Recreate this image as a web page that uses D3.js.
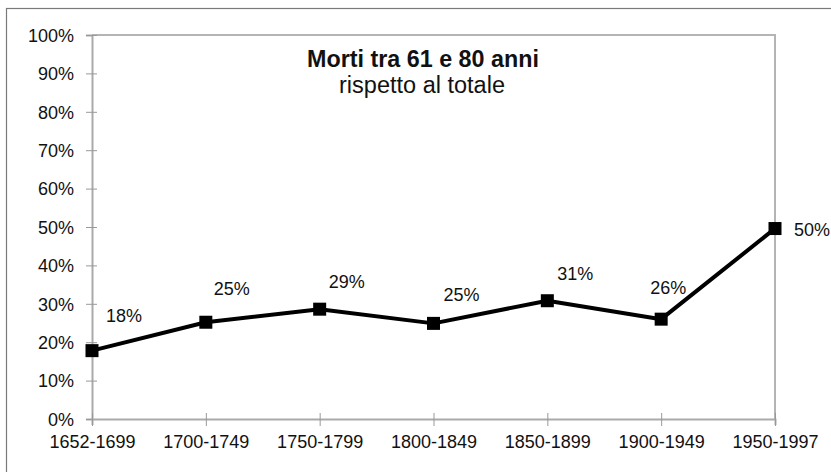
<!DOCTYPE html>
<html>
<head>
<meta charset="utf-8">
<script src="https://cdn.jsdelivr.net/npm/d3@7"></script>
<style>
  body { margin: 0; background: #fff; }
  text { font-family: "Liberation Sans", Arial, sans-serif; fill: #111; }
</style>
</head>
<body>
<svg id="chart" width="831" height="472"></svg>
<script>
// periods on the x axis
const periods = ["1652-1699", "1700-1749", "1750-1799", "1800-1849", "1850-1899", "1900-1949", "1950-1997"];
// share of deaths aged 61-80 over total (%)
const shares = [17.8, 25.2, 28.6, 24.9, 30.8, 26.0, 49.6];
const pointLabels = ["18%", "25%", "29%", "25%", "31%", "26%", "50%"];
const yTicks = [0, 10, 20, 30, 40, 50, 60, 70, 80, 90, 100];

const svg = d3.select("#chart");
const margin = { left: 92, right: 56, top: 35, bottom: 53 };
const W = 831, H = 472;

// outer chart frame (bottom/right run off the picture)
svg.append("rect")
  .attr("x", 6.5).attr("y", 8.5)
  .attr("width", 840).attr("height", 480)
  .attr("fill", "none")
  .attr("stroke", "#7a7a7a")
  .attr("stroke-width", 1.2);

const x = d3.scalePoint()
  .domain(periods)
  .range([margin.left, W - margin.right]);

const y = d3.scaleLinear()
  .domain([0, 100])
  .range([H - margin.bottom, margin.top]);

// plot area border (top + right)
svg.append("path")
  .attr("d", `M${margin.left},${y(100)}H${W - margin.right}V${y(0)}`)
  .attr("fill", "none")
  .attr("stroke", "#b4b4b4")
  .attr("stroke-width", 2);

// y axis
const yAxis = svg.append("g")
  .attr("transform", `translate(${margin.left},0)`)
  .call(d3.axisLeft(y).tickValues(yTicks).tickFormat(d => d + "%").tickSize(6).tickPadding(12));
yAxis.select(".domain").attr("stroke", "#aaa").attr("stroke-width", 2);
yAxis.selectAll(".tick line").attr("stroke", "#999").attr("x2", 5).attr("x1", -6);
yAxis.selectAll(".tick text")
  .style("font-size", "18px")
  .attr("dy", "0.35em");

// x axis
const xAxis = svg.append("g")
  .attr("transform", `translate(0,${y(0)})`)
  .call(d3.axisBottom(x).tickSize(6).tickPadding(10));
xAxis.select(".domain").attr("stroke", "#aaa").attr("stroke-width", 2);
xAxis.selectAll(".tick line").attr("stroke", "#999").attr("y1", -6).attr("y2", 7);
xAxis.selectAll(".tick text")
  .style("font-size", "18px")
  .attr("dy", "0.71em");

// the line
const line = d3.line()
  .x((d, i) => x(periods[i]))
  .y(d => y(d));

svg.append("path")
  .datum(shares)
  .attr("d", line)
  .attr("fill", "none")
  .attr("stroke", "#000")
  .attr("stroke-width", 4)
  .attr("stroke-linejoin", "round");

// square markers
const sz = 13;
svg.selectAll(".marker")
  .data(shares)
  .enter().append("rect")
  .attr("class", "marker")
  .attr("x", (d, i) => x(periods[i]) - sz / 2)
  .attr("y", d => y(d) - sz / 2)
  .attr("width", sz).attr("height", sz)
  .attr("fill", "#000");

// label offsets (hand placed, like in the original)
const labelDx = [32, 26, 27, 28, 28, 7, 37];
const labelDy = [-29, -27, -21, -22, -21, -25, 7];

svg.selectAll(".dlabel")
  .data(shares)
  .enter().append("text")
  .attr("class", "dlabel")
  .attr("x", (d, i) => x(periods[i]) + labelDx[i])
  .attr("y", (d, i) => y(d) + labelDy[i])
  .attr("text-anchor", "middle")
  .style("font-size", "18px")
  .text((d, i) => pointLabels[i]);

// title
svg.append("text")
  .attr("x", 423).attr("y", 67)
  .attr("text-anchor", "middle")
  .style("font-size", "23.3px")
  .style("font-weight", "bold")
  .text("Morti tra 61 e 80 anni");

svg.append("text")
  .attr("x", 422).attr("y", 93)
  .attr("text-anchor", "middle")
  .style("font-size", "23.5px")
  .text("rispetto al totale");
</script>
</body>
</html>
